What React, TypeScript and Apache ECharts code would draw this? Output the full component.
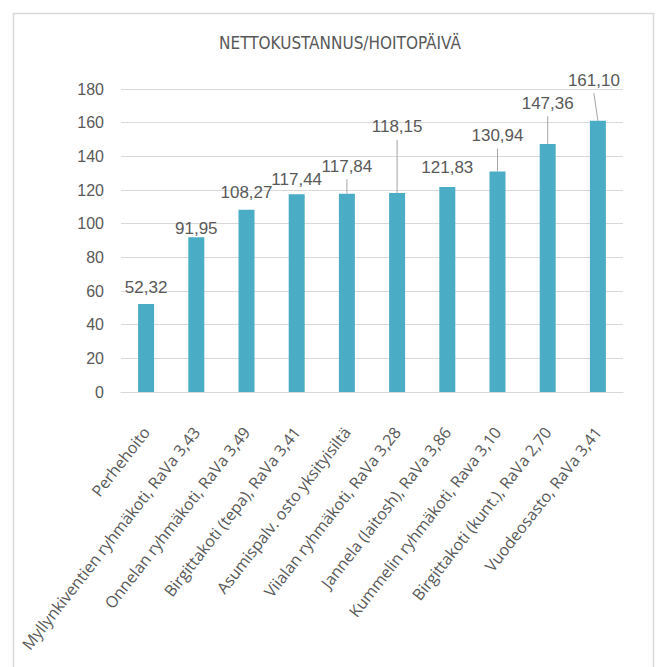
import React, { useEffect, useRef } from "react";
import * as echarts from "echarts";

const TITLE = "NETTOKUSTANNUS/HOITOPÄIVÄ";
const CATEGORIES = [
  "Perhehoito",
  "Myllynkiventien ryhmäkoti, RaVa 3,43",
  "Onnelan ryhmäkoti, RaVa 3,49",
  "Birgittakoti (tepa), RaVa 3,41",
  "Asumispalv. osto yksityisiltä",
  "Viialan ryhmäkoti, RaVa 3,28",
  "Jannela (laitosh), RaVa 3,86",
  "Kummelin ryhmäkoti, Rava 3,10",
  "Birgittakoti (kunt.), RaVa 2,70",
  "Vuodeosasto, RaVa 3,41",
];
const VALUES = [52.32, 91.95, 108.27, 117.44, 117.84, 118.15, 121.83, 130.94, 147.36, 161.1];
const Y_MIN = 0;
const Y_MAX = 180;
const Y_STEP = 20;

// label placement (layout only): distance of label centre above bar top, horizontal shift, leader line
const LABEL_LIFT = [16, 8.5, 17.4, 14.7, 27.6, 66.3, 19.4, 36, 40.7, 40.7];
const LABEL_DX = [0, 0, 0, 0, 0, 0, 0, 0, 0, -4];
const HAS_LEADER = [false, false, false, false, true, true, false, true, true, true];

const NUM_FONT = "'Liberation Sans', Arial, sans-serif";
const NARROW_FONT = "'Liberation Sans Narrow', 'DejaVu Sans Condensed', 'Liberation Sans', sans-serif";
const CAT_FONT = "'Open Sans', 'Noto Sans', sans-serif";
const TEXT_COLOR = "#595959";
const BAR_COLOR = "#4BACC6";
const GRID_COLOR = "#d9d9d9";

const fmt = (v: number) => v.toFixed(2).replace(".", ",");

export default function App() {
  const ref = useRef<HTMLDivElement>(null);
  useEffect(() => {
    if (!ref.current) return;
    const chart = echarts.init(ref.current, undefined, { renderer: "svg" });
    const option = {
      animation: false,
      backgroundColor: "#ffffff",
      title: {
        text: TITLE,
        left: 335,
        top: 29,
        textAlign: "center",
        textStyle: { fontFamily: NARROW_FONT, fontSize: 17, fontWeight: "normal", color: TEXT_COLOR },
      },
      graphic: [
        {
          type: "rect",
          shape: { x: 13.5, y: 13.5, width: 640, height: 680 },
          style: { fill: "none", stroke: GRID_COLOR, lineWidth: 1.5 },
          silent: true,
        },
      ],
      grid: { left: 121, right: 35, top: 89, bottom: 275, containLabel: false },
      xAxis: {
        type: "category",
        data: CATEGORIES,
        axisLine: { show: true, lineStyle: { color: GRID_COLOR, width: 1 } },
        axisTick: { show: false },
        axisLabel: {
          interval: 0,
          rotate: 52,
          margin: 37,
          fontFamily: CAT_FONT,
          fontSize: 16,
          color: TEXT_COLOR,
        },
      },
      yAxis: {
        type: "value",
        min: Y_MIN,
        max: Y_MAX,
        interval: Y_STEP,
        axisLine: { show: false },
        axisTick: { show: false },
        splitLine: { lineStyle: { color: GRID_COLOR, width: 1 } },
        axisLabel: { margin: 17, fontFamily: NUM_FONT, fontSize: 16, color: TEXT_COLOR },
      },
      series: [
        {
          type: "bar",
          barWidth: 16,
          itemStyle: { color: BAR_COLOR },
          data: VALUES.map((v, i) => ({
            value: v,
            label: {
              show: true,
              position: "top",
              distance: 0,
              verticalAlign: "middle",
              offset: [LABEL_DX[i], -LABEL_LIFT[i]],
              formatter: () => fmt(v),
              fontFamily: NUM_FONT,
              fontSize: 17,
              color: TEXT_COLOR,
            },
          })),
        },
        {
          type: "custom",
          silent: true,
          z: 5,
          data: VALUES.map((v, i) => [i, v]),
          renderItem: (params: any, api: any) => {
            const i = api.value(0);
            if (!HAS_LEADER[i]) return null;
            const p = api.coord([i, api.value(1)]);
            return {
              type: "line",
              shape: { x1: p[0] + LABEL_DX[i], y1: p[1] - LABEL_LIFT[i] + 13, x2: p[0], y2: p[1] },
              style: { stroke: "#a6a6a6", lineWidth: 1 },
            };
          },
        },
      ],
    };
    chart.setOption(option as any);
    return () => chart.dispose();
  }, []);
  return (
    <div
      ref={ref}
      style={{ position: "absolute", left: 0, top: 0, width: 658, height: 667 }}
    />
  );
}
